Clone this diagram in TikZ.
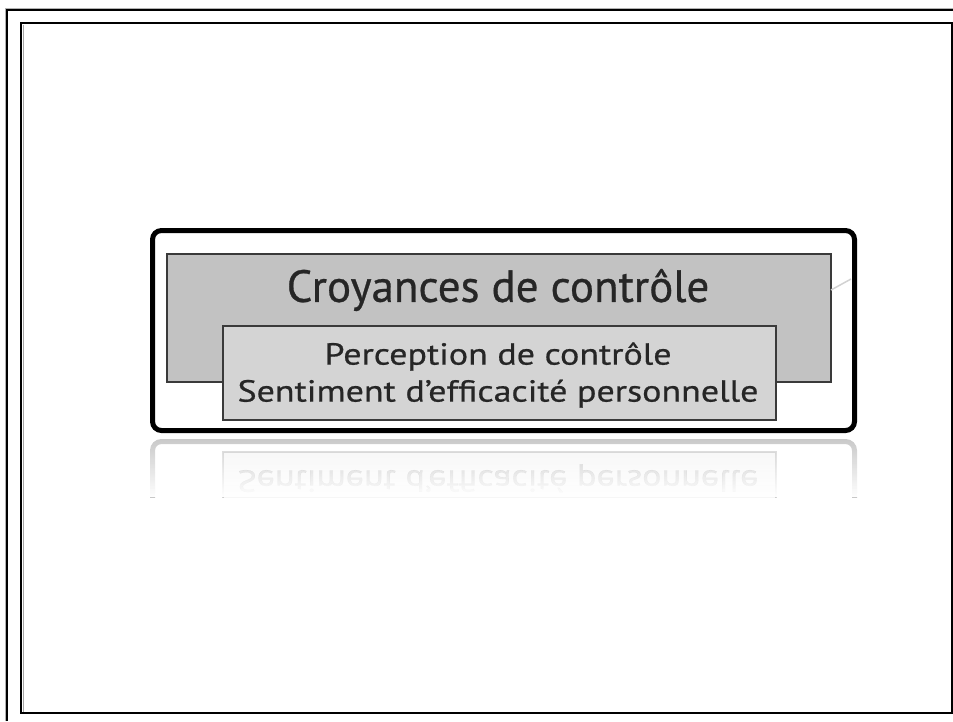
\documentclass[tikz,border=0pt]{standalone}
\usepackage{fontspec}
\setmainfont{PT Sans}[FakeBold=0.6]
\newfontfamily\widefont{PT Sans}[FakeBold=0.6, FakeStretch=1.18]
\usepackage{tikz}
\usetikzlibrary{fadings}

\definecolor{boxgray}{HTML}{C2C2C2}
\definecolor{innergray}{HTML}{D4D4D4}
\definecolor{edgegray}{HTML}{3A3A3A}

\begin{document}
\begin{tikzpicture}[x=1pt, y=-1pt]
    		% Page and frames:
    		\useasboundingbox (0, 0) rectangle (953, 721);
    		\draw[gray!60, line width=1pt] (5, 721) -- (5, 8) -- (953, 8);
    		\draw[line width=2.5pt] (7, 721) -- (7, 10) -- (953, 10);
    		\draw[line width=2pt] (21, 713) -- (21, 23) -- (952, 23) -- (952, 713) -- cycle;
    		\draw[gray!70, line width=1pt] (23.5, 712) -- (23.5, 25);
    		% Boxes and texts:
    		\node[shape=rectangle, draw, line width=5pt, rounded corners=9pt, minimum width=702pt, minimum height=200pt](Cont) at (503.5, 330.5){};
    		\node[shape=rectangle, draw=edgegray, fill=boxgray, line width=1.5pt, minimum width=664pt, minimum height=128pt](Belief) at (499, 318){};
    		\node[anchor=center, font=\fontsize{45}{54}\selectfont, text=black!85](BeliefText) at (498, 290){Croyances de contrôle};
    		\node[shape=rectangle, draw=edgegray, fill=innergray, line width=1.5pt, minimum width=553pt, minimum height=94pt](Percep) at (499.5, 373){};
    		\node[anchor=center, font=\widefont\fontsize{30.5}{37}\selectfont, text=black!85, align=center](PercepText) at (498, 375){Perception de contrôle\\Sentiment d’efficacité personnelle};
    		% Stub line:
    		\coordinate (StubA) at (831, 290);
    		\coordinate (StubB) at (851, 279);
    		\draw[gray!35, line width=1.5pt] (StubA) -- (StubB);
    		% Reflection:
    		\begin{scope}
    			\clip (140, 437) rectangle (870, 497);
    			\begin{scope}[opacity=0.22, shift={(0, 872)}, yscale=-1]
    				\node[shape=rectangle, draw, line width=5pt, rounded corners=9pt, minimum width=702pt, minimum height=200pt, transform shape](ContR) at (503.5, 330.5){};
    				\node[shape=rectangle, draw=edgegray, fill=innergray, line width=1.5pt, minimum width=553pt, minimum height=94pt, transform shape](PercepR) at (499.5, 373){};
    				\node[anchor=center, font=\widefont\fontsize{30.5}{37}\selectfont, text=black!85, align=center, transform shape](PercepTextR) at (498, 375){Perception de contrôle\\Sentiment d’efficacité personnelle};
    			\end{scope}
    			\fill[white, path fading=north] (140, 437) rectangle (870, 497);
    		\end{scope}
    	\end{tikzpicture}
\end{document}
